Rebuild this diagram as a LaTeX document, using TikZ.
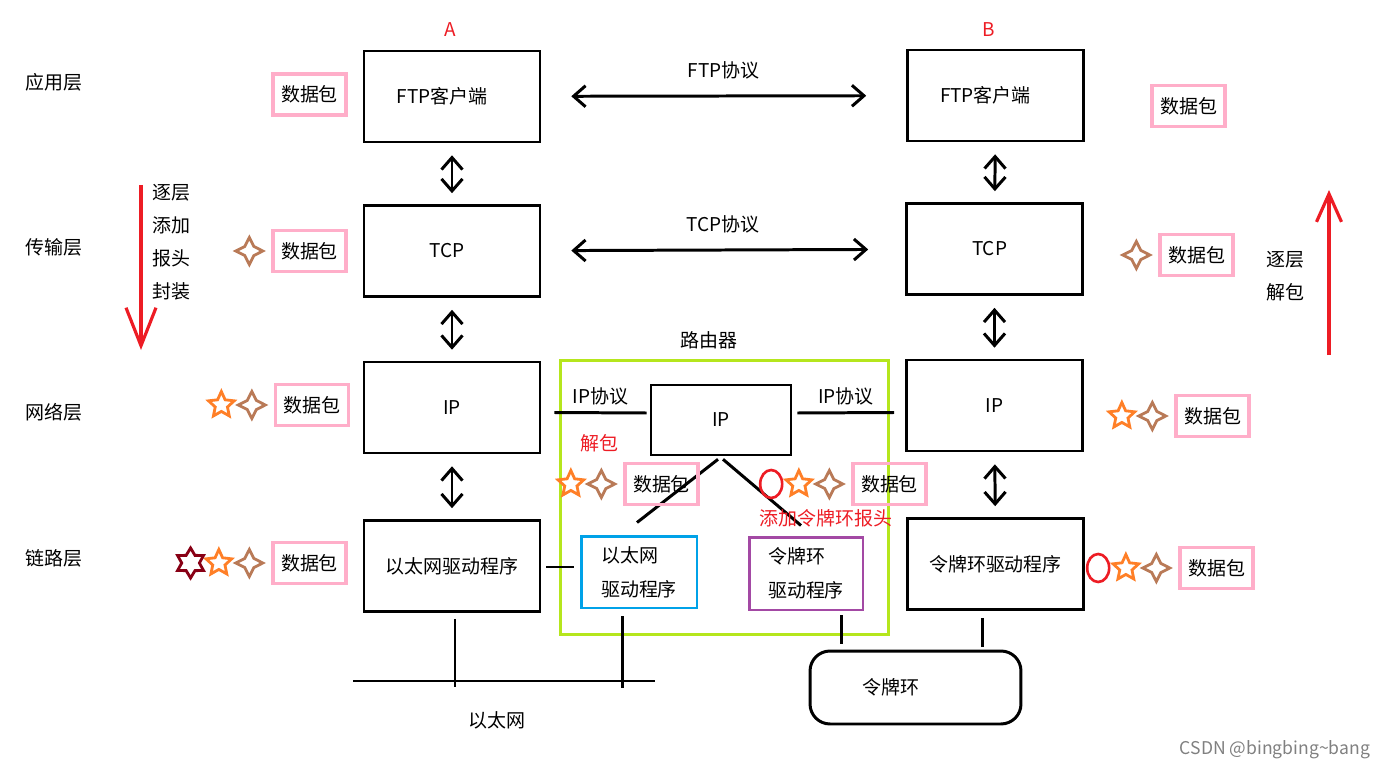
\documentclass[tikz,border=0pt]{standalone}
\usepackage{fontspec}
\setmainfont{Noto Sans CJK SC}
\usetikzlibrary{shapes.geometric, arrows.meta, positioning, calc}

\definecolor{paintred}{RGB}{237,28,36}
\definecolor{pktpink}{RGB}{255,174,201}
\definecolor{starbrown}{RGB}{185,122,87}
\definecolor{starorange}{RGB}{255,127,39}
\definecolor{stardark}{RGB}{136,0,21}
\definecolor{routergreen}{RGB}{181,230,29}
\definecolor{ethblue}{RGB}{0,162,232}
\definecolor{tokpurple}{RGB}{163,73,164}

\begin{document}
\begin{tikzpicture}[x=0.02cm, y=-0.02cm,
  every node/.style={font=\fontsize{10.8}{13}\selectfont, inner sep=0pt},
  layerbox/.style={draw, line width=1.5pt, minimum width=3.52cm, minimum height=1.82cm},
  pkt/.style={draw=pktpink, line width=1.8pt, minimum width=1.46cm, minimum height=0.82cm},
  sfour/.style={star, star points=4, star point ratio=2.1, draw=starbrown, line width=1.6pt, minimum size=0.54cm},
  sfive/.style={star, star points=5, star point ratio=2.1, draw=starorange, line width=1.6pt, minimum size=0.54cm},
  ssix/.style={star, star points=6, star point ratio=1.7, draw=stardark, line width=1.6pt, minimum size=0.6cm},
  hdr/.style={ellipse, draw=paintred, line width=1.5pt, minimum width=0.44cm, minimum height=0.56cm},
  biarrow/.style={{Straight Barb[length=0.24cm,width=0.42cm]}-{Straight Barb[length=0.24cm,width=0.42cm]}, line width=1.7pt},
  wire/.style={line width=1.7pt},
  redarrow/.style={draw=paintred, line width=1.8pt},
  redtext/.style={text=paintred}]
\useasboundingbox (0,0) rectangle (1386,770);

% Layer names
\foreach \name/\y in {应用层/82, 传输层/247, 网络层/412, 链路层/558} {
    \node (layer\y) at (54,\y) {\name};
}
\node[redtext] (hostA) at (450,30) {A};
\node[redtext] (hostB) at (989,30) {B};

% Host A
\node[layerbox] (aftp) at (452,96.5) {FTP客户端\hspace*{0.4cm}};
\node[layerbox] (atcp) at (452,251) {TCP\hspace*{0.2cm}};
\node[layerbox] (aip) at (452,407.5) {IP};
\node[layerbox] (aeth) at (452,566) {以太网驱动程序};

% Host B
\node[layerbox] (bftp) at (995.5,95.5) {FTP客户端\hspace*{0.4cm}};
\node[layerbox] (btcp) at (994.5,249) {TCP\hspace*{0.2cm}};
\node[layerbox] (bip) at (994.5,405.5) {IP};
\node[layerbox] (btok) at (995.5,564) {令牌环驱动程序};

% Router
\node[draw=routergreen, line width=1.7pt, minimum width=6.58cm, minimum height=5.5cm] (router) at (724.5,497.5) {};
\node (routername) at (709,340) {路由器};
\node[draw, line width=1.5pt, minimum width=2.8cm, minimum height=1.4cm] (rip) at (721,420) {IP};
\node[draw=ethblue, line width=1.7pt, minimum width=2.32cm, minimum height=1.44cm, align=left] (reth) at (639,572)
    {以太网\\[0.22cm]驱动程序};
\node[draw=tokpurple, line width=1.7pt, minimum width=2.28cm, minimum height=1.46cm, align=left] (rtok) at (806,573.5)
    {令牌环\\[0.22cm]驱动程序};

% Networks
\node[draw, line width=1.7pt, rounded corners=0.4cm, minimum width=4.22cm, minimum height=1.46cm] (ring) at (915.5,687.5) {令牌环\hspace*{1cm}};
\coordinate (busL) at (353,681);
\coordinate (busR) at (655,681);
\draw[wire] (busL) -- (busR);
\node (ethname) at (497,720) {以太网};

% Stacks
\foreach \a/\b in {aftp/atcp, atcp/aip, aip/aeth, bftp/btcp, btcp/bip, bip/btok} {
    \draw[biarrow, shorten <=0.24cm, shorten >=0.22cm] (\a) -- (\b);
}
\draw[biarrow, shorten <=0.6cm, shorten >=0.8cm] (aftp) -- node[above=0.3cm] (ftplabel) {FTP协议} (bftp);
\draw[biarrow, shorten <=0.6cm, shorten >=0.74cm] (atcp) -- node[above=0.3cm] (tcplabel) {TCP协议} (btcp);

% Links through the router
\draw[wire] ([shift={(13,5)}]aip.east) -- node[above=0.12cm] (ipleft) {IP协议} ([shift={(-3,-7)}]rip.west);
\draw[wire] ([shift={(5,-7)}]rip.east) -- node[above=0.12cm] (ipright) {IP协议} ([shift={(-11,7)}]bip.west);
\draw[wire] ([shift={(5,1)}]aeth.east) -- ([shift={(-6,-5)}]reth.west);
\draw[wire] ([shift={(-3,3)}]rip.south) -- ([shift={(-2,-12)}]reth.north);
\draw[wire] ([shift={(2,3)}]rip.south) -- ([shift={(-5,-10)}]rtok.north);
\draw[wire] ([shift={(3,6)}]aeth.south) -- ([shift={(3,6)}]aeth.south |- busL);
\draw[wire] ([shift={(-17,7)}]reth.south) -- ([shift={(-17,7)}]reth.south |- busL);
\draw[wire] ([shift={(35,4)}]rtok.south) -- ([shift={(35,-6)}]rtok.south |- ring.north);
\draw[wire] ([shift={(-13,7)}]btok.south) -- ([shift={(-13,-3)}]btok.south |- ring.north);

% Packets on host A
\node[pkt] (pa1) at (309.5,94.5) {数据包};
\node[pkt] (pa2) at (309.5,251) {数据包};
\node[sfour, left=0.11cm of pa2] (pa2s4) {};
\node[pkt] (pa3) at (312,405) {数据包};
\node[sfour, left=0.11cm of pa3] (pa3s4) {};
\node[sfive, left=0.07cm of pa3s4] (pa3s5) {};
\node[pkt] (pa4) at (309.5,563) {数据包};
\node[sfour, left=0.11cm of pa4] (pa4s4) {};
\node[sfive, left=0.07cm of pa4s4] (pa4s5) {};
\node[ssix, left=0.15cm of pa4s5] (pa4s6) {};

% Packets on host B
\node[pkt] (pb1) at (1188.5,106) {数据包};
\node[pkt] (pb2) at (1196.5,255) {数据包};
\node[sfour, left=0.11cm of pb2] (pb2s4) {};
\node[pkt] (pb3) at (1212.5,416) {数据包};
\node[sfour, left=0.11cm of pb3] (pb3s4) {};
\node[sfive, left=0.07cm of pb3s4] (pb3s5) {};
\node[pkt] (pb4) at (1216.5,568) {数据包};
\node[sfour, left=0.11cm of pb4] (pb4s4) {};
\node[sfive, left=0.07cm of pb4s4] (pb4s5) {};
\node[hdr, left=0.1cm of pb4s5] (pb4h) {};

% Packets in the router
\node[redtext] (unpack) at (599,443) {解包};
\node[pkt] (pr1) at (661.5,484) {数据包};
\node[sfour, left=0.11cm of pr1] (pr1s4) {};
\node[sfive, left=0.07cm of pr1s4] (pr1s5) {};
\node[pkt] (pr2) at (889.5,484) {数据包};
\node[sfour, left=0.11cm of pr2] (pr2s4) {};
\node[sfive, left=0.07cm of pr2s4] (pr2s5) {};
\node[hdr, left=0.1cm of pr2s5] (pr2h) {};
\node[redtext] (addhdr) at (826,518) {添加令牌环报头};

% Direction notes
\coordinate (downtop) at (141,185);
\coordinate (downend) at (141,350);
\draw[redarrow, -{Straight Barb[length=0.76cm,width=0.6cm]}] (downtop) -- (downend);
\node[align=left, font=\fontsize{10.8}{18.8}\selectfont] (encap) at (171,242) {逐层\\添加\\报头\\封装};
\coordinate (uptop) at (1329,190);
\coordinate (upend) at (1329,355);
\draw[redarrow, -{Straight Barb[length=0.56cm,width=0.5cm]}] (upend) -- (uptop);
\node[align=left, font=\fontsize{10.8}{18.8}\selectfont] (decap) at (1285,276) {逐层\\解包};

\node[text=gray, font=\fontsize{10}{12}\selectfont] (mark) at (1275,750) {CSDN @bingbing\textasciitilde bang};
\end{tikzpicture}
\end{document}
